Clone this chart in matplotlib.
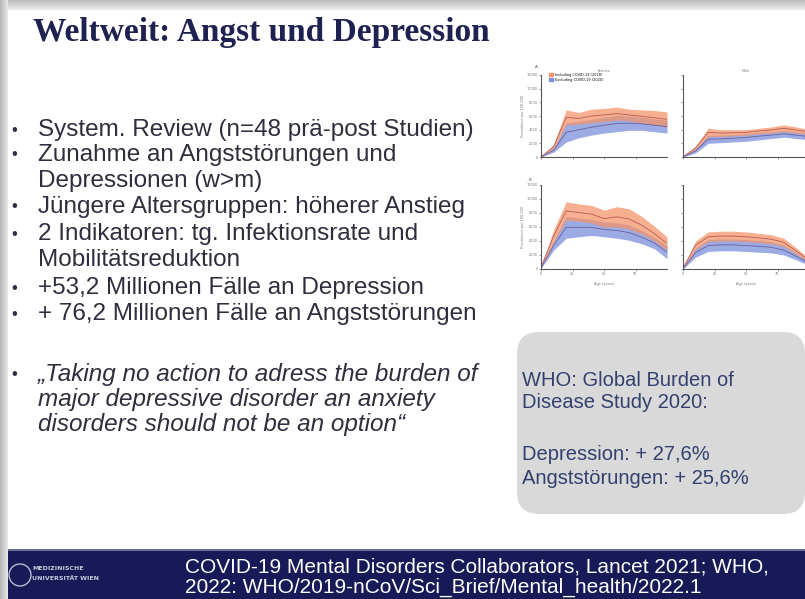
import matplotlib.pyplot as plt
from matplotlib.patches import Rectangle, FancyBboxPatch, Circle, Patch

W, H = 805, 599

# slide text
title = "Weltweit: Angst und Depression"
bullets = [
    ["System. Review (n=48 prä-post Studien)"],
    ["Zunahme an Angststörungen und", "Depressionen (w>m)"],
    ["Jüngere Altersgruppen: höherer Anstieg"],
    ["2 Indikatoren: tg. Infektionsrate und", "Mobilitätsreduktion"],
    ["+53,2 Millionen Fälle an Depression"],
    ["+ 76,2 Millionen Fälle an Angststörungen"],
    ["„Taking no action to adress the burden of", "major depressive disorder an anxiety",
     "disorders should not be an option“"],
]
bullet_y = [130, 155, 207, 234, 288, 314, 374]
box_lines = ["WHO: Global Burden of", "Disease Study 2020:",
             "Depression: + 27,6%", "Angststörungen: + 25,6%"]
box_y = [380, 403, 455, 479]
footer_lines = ["COVID-19 Mental Disorders Collaborators, Lancet 2021; WHO,",
                "2022: WHO/2019-nCoV/Sci_Brief/Mental_health/2022.1"]

# inset chart data (prevalence per 100 000 by age)
ages = [0, 10, 20, 30, 40, 50, 60, 70, 80, 90, 100]
a_fem_or_hi = [0, 1800, 6900, 6500, 7000, 7100, 7300, 7000, 6900, 6800, 6600]
a_fem_or_lo = [0, 1200, 4700, 4800, 5000, 5200, 5400, 5300, 5000, 4700, 4400]
a_fem_bl_hi = [0, 1300, 5000, 5200, 5500, 5800, 6100, 6000, 5800, 5600, 5400]
a_fem_bl_lo = [0, 700, 2200, 2800, 3200, 3500, 3700, 3900, 3900, 3700, 3500]
a_mal_or_hi = [0, 1600, 4200, 4000, 4000, 4000, 4200, 4400, 4700, 4400, 4000]
a_mal_or_lo = [0, 1100, 3000, 3000, 3100, 3200, 3400, 3500, 3700, 3500, 3300]
a_mal_bl_hi = [0, 1200, 3200, 3200, 3300, 3400, 3600, 3700, 3900, 3700, 3500]
a_mal_bl_lo = [0, 600, 2000, 2100, 2200, 2300, 2500, 2700, 2900, 2700, 2500]
b_fem_or_hi = [300, 5600, 9600, 9300, 9100, 8400, 8900, 8600, 7500, 6100, 4600]
b_fem_or_lo = [200, 3800, 7000, 6800, 6600, 6000, 6000, 5700, 5000, 4000, 2700]
b_fem_bl_hi = [200, 4000, 7500, 7300, 7100, 6700, 6600, 6300, 5500, 4500, 3300]
b_fem_bl_lo = [100, 2700, 4400, 4600, 4800, 4600, 4400, 4100, 3600, 2900, 1500]
b_mal_or_hi = [200, 4000, 5300, 5400, 5400, 5300, 5100, 4900, 4400, 3000, 1500]
b_mal_or_lo = [100, 2800, 3900, 4000, 4000, 3900, 3800, 3600, 3200, 2100, 1000]
b_mal_bl_hi = [100, 3000, 4200, 4300, 4300, 4200, 4100, 3900, 3400, 2300, 1100]
b_mal_bl_lo = [0, 1700, 2500, 2600, 2600, 2500, 2400, 2300, 2000, 1300, 500]
yticks = [0, 2000, 4000, 6000, 8000, 10000, 12000]
xticks = [0, 25, 50, 75]

navy = "#1f2150"
txt = "#2e2e3e"

fig = plt.figure(figsize=(8.05, 5.99), dpi=100)
bg = fig.add_axes([0, 0, 1, 1])
bg.set_xlim(0, W)
bg.set_ylim(H, 0)
bg.axis("off")

# grey frame / shadow of the screenshot
for i in range(10):
    g = 0.74 + 0.02 * i
    bg.add_patch(Rectangle((0, i), W, 1, color=(g, g, g), lw=0))
for i in range(8):
    g = 0.72 + 0.025 * i
    bg.add_patch(Rectangle((i, 0), 1, H, color=(g, g, g), lw=0))

bg.text(33, 33, title, fontsize=24, fontweight="bold", family="Liberation Serif",
        color=navy, va="center", ha="left")

for lines, y0 in zip(bullets, bullet_y):
    italic = lines[0].startswith("„")
    bg.text(11, y0, "•", fontsize=12, color=txt, va="center", family="Liberation Sans")
    for k, line in enumerate(lines):
        bg.text(38, y0 + 25.5 * k, line, fontsize=17.5, color=txt, va="center",
                family="Liberation Sans", style="italic" if italic else "normal")

# grey info box
bg.add_patch(FancyBboxPatch((527, 342), 268, 162, boxstyle="round,pad=10,rounding_size=22",
                            fc="#d9d9d9", ec="none"))
for line, y in zip(box_lines, box_y):
    bg.text(522, y, line, fontsize=14.5, color="#34406f", va="center", family="Liberation Sans")

# footer
bg.add_patch(Rectangle((8, 549), W, 50, color="#181a58", lw=0))
bg.add_patch(Rectangle((8, 549), W, 2, color="#6b6d94", lw=0))
bg.add_patch(Circle((20, 575), 11, fc="none", ec="#b8bad0", lw=1))
bg.text(32, 569, "MEDIZINISCHE", fontsize=4.5, color="#c8cadc", va="center", fontweight="bold")
bg.text(32, 579, "UNIVERSITÄT WIEN", fontsize=4.5, color="#c8cadc", va="center", fontweight="bold")
for k, line in enumerate(footer_lines):
    bg.text(185, 567 + 20 * k, line, fontsize=15, color="white", va="center",
            family="Liberation Sans")

# inset panels
panels = [
    ((541, 75, 667, 157), a_fem_or_hi, a_fem_or_lo, a_fem_bl_hi, a_fem_bl_lo),
    ((683, 75, 809, 157), a_mal_or_hi, a_mal_or_lo, a_mal_bl_hi, a_mal_bl_lo),
    ((541, 185, 667, 269), b_fem_or_hi, b_fem_or_lo, b_fem_bl_hi, b_fem_bl_lo),
    ((683, 185, 809, 269), b_mal_or_hi, b_mal_or_lo, b_mal_bl_hi, b_mal_bl_lo),
]
axes = []
for (x0, y0, x1, y1), ohi, olo, bhi, blo in panels:
    ax = fig.add_axes([x0 / W, 1 - y1 / H, (x1 - x0) / W, (y1 - y0) / H])
    ax.fill_between(ages, blo, bhi, color="#7d8fdc", alpha=0.75, lw=0)
    ax.fill_between(ages, olo, ohi, color="#f3946a", alpha=0.75, lw=0)
    ax.plot(ages, [(a + b) / 2 for a, b in zip(olo, ohi)], color="#b85a55", lw=0.6)
    ax.plot(ages, [(a + b) / 2 for a, b in zip(blo, bhi)], color="#6a5f9a", lw=0.6)
    ax.set_xlim(0, 100)
    ax.set_ylim(0, 12000)
    ax.set_xticks(xticks)
    ax.set_yticks(yticks)
    ax.patch.set_alpha(0)
    for s in ["top", "right"]:
        ax.spines[s].set_visible(False)
    for s in ["left", "bottom"]:
        ax.spines[s].set_color("#555555")
        ax.spines[s].set_linewidth(0.8)
    ax.tick_params(labelsize=2.5, colors="#777777", length=1.5, width=0.5, pad=1)
    axes.append(ax)

axes[0].set_ylabel("Prevalence per 100 000", fontsize=2.5, color="#777777", labelpad=1)
axes[2].set_ylabel("Prevalence per 100 000", fontsize=2.5, color="#777777", labelpad=1)
axes[1].set_yticklabels([])
axes[3].set_yticklabels([])
axes[0].set_xticklabels([])
axes[1].set_xticklabels([])
axes[2].set_xlabel("Age (years)", fontsize=2.5, color="#777777", labelpad=4)
axes[3].set_xlabel("Age (years)", fontsize=2.5, color="#777777", labelpad=4)
axes[0].set_title("Female", fontsize=2.5, color="#777777", pad=2)
axes[1].set_title("Male", fontsize=2.5, color="#777777", pad=2)
axes[0].text(-0.05, 1.08, "A", transform=axes[0].transAxes, fontsize=3, color="#555555")
axes[2].text(-0.1, 1.05, "B", transform=axes[2].transAxes, fontsize=3, color="#555555")
axes[0].legend(handles=[Patch(color="#f3946a", label="Including COVID-19 (2020)"),
                        Patch(color="#7d8fdc", label="Excluding COVID-19 (2020)")],
               loc="upper left", bbox_to_anchor=(0.05, 1.05), fontsize=2.5, frameon=False,
               handlelength=1, handleheight=0.8, borderpad=0, labelspacing=0.3)

fig.savefig("out.png", dpi=100)
